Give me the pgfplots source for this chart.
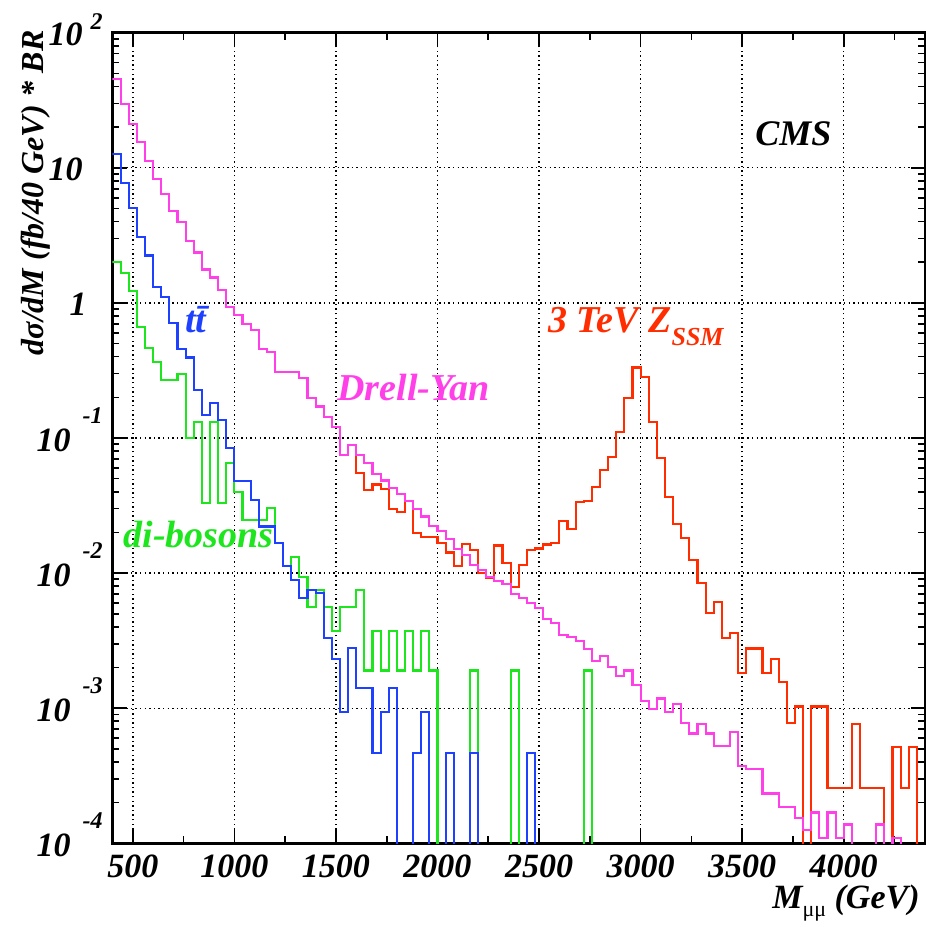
\documentclass[border=0pt]{standalone}
\usepackage{fontspec}
\setmainfont{Liberation Serif}
\usepackage{pgfplots}
\pgfplotsset{compat=1.18}
\definecolor{dypink}{RGB}{255,64,232}
\definecolor{ttblue}{RGB}{30,64,255}
\definecolor{vvgreen}{RGB}{30,230,30}
\definecolor{zred}{RGB}{255,45,0}
\newcommand{\tickfont}{\fontsize{17bp}{20bp}\selectfont\bfseries\itshape}
\newcommand{\lblfont}{\fontsize{19bp}{22bp}\selectfont\bfseries\itshape}
\newcommand{\rexp}[1]{10\hspace*{6bp}\raisebox{14bp}{\fontsize{12bp}{12bp}\selectfont #1}}

\begin{document}
\begin{tikzpicture}
\begin{axis}[
    at={(0,0)}, anchor=south west,
    scale only axis, width=406.25bp, height=405.3bp,
    xmin=400, xmax=4400,
    ymode=log, ymin=1e-4, ymax=100,
    axis line style={line width=1.2bp},
    xtick={500,1000,1500,2000,2500,3000,3500,4000},
    xticklabels={500,1000,1500,2000,2500,3000,3500,4000},
    minor xtick={750,1250,1750,2250,2750,3250,3750,4250},
    ytick={1e-4,1e-3,1e-2,1e-1,1,10,100},
    yticklabels={\rexp{-4},\rexp{-3},\rexp{-2},\rexp{-1},1\hspace*{8bp},10\hspace*{10bp},10\hspace*{4bp}\raisebox{8bp}{\fontsize{12bp}{12bp}\selectfont 2}},
    tick align=inside,
    major tick length=7bp, minor tick length=3.5bp,
    every tick/.style={black, line width=0.8bp},
    grid=major,
    major grid style={black, line width=0.7bp, dash pattern=on 0.7bp off 1.6bp},
    xticklabel style={font=\tickfont, anchor=base, inner sep=0pt, yshift=-16.85bp},
    yticklabel style={font=\tickfont, anchor=base east, inner sep=0pt, xshift=-4.75bp, yshift=-6.5bp},
    clip mode=individual,
    every axis plot/.append style={const plot mark left, no marks, line width=1.1bp},
  ]
  % di-bosons
  \addplot[vvgreen] coordinates {
    (400,2.0) (440,1.67) (480,1.23) (520,0.659) (560,0.461) (600,0.363) (640,0.268) (680,0.268)
    (720,0.298) (760,0.0995) (800,0.132) (840,0.0332) (880,0.132) (920,0.0332) (960,0.0656)
    (1000,0.0400) (1040,0.0247) (1080,0.0247) (1120,0.0247) (1160,0.0302) (1200,0.0168)
    (1240,0.0113) (1280,0.0132) (1320,0.0094) (1360,0.00564) (1400,0.0075) (1440,0.00564)
    (1480,0.00375) (1520,0.00564) (1560,0.00564) (1600,0.0075) (1640,0.0019) (1680,0.00375)
    (1720,0.0019) (1760,0.00375) (1800,0.0019) (1840,0.00375) (1880,0.0019) (1920,0.00375)
    (1960,0.0019) (2000,1e-6) (2160,0.0019) (2200,1e-6) (2360,0.0019) (2400,1e-6)
    (2720,0.0019) (2760,1e-6)};
  % ttbar
  \addplot[ttblue] coordinates {
    (400,12.6) (440,7.76) (480,5.07) (520,3.06) (560,2.24) (600,1.32) (640,1.10) (680,0.713)
    (720,0.453) (760,0.395) (800,0.226) (840,0.147) (880,0.181) (920,0.136) (960,0.0839)
    (1000,0.0481) (1040,0.0481) (1080,0.0348) (1120,0.0221) (1160,0.0221) (1200,0.0166)
    (1240,0.0113) (1280,0.00889) (1320,0.0065) (1360,0.0075) (1400,0.0071) (1440,0.00329)
    (1480,0.00231) (1520,0.000933) (1560,0.0028) (1600,0.00142) (1640,0.00142) (1680,0.000469)
    (1720,0.000942) (1760,0.00142) (1800,1e-6) (1880,0.000469) (1920,0.000942) (1960,1e-6)
    (2040,0.000469) (2080,1e-6) (2160,0.000469) (2200,1e-6) (2440,0.000469) (2480,1e-6)};
  % 3 TeV Z'
  \addplot[zred] coordinates {
    (1520,0.0745) (1560,0.0888) (1600,0.0548) (1640,0.0415) (1680,0.0452) (1720,0.042)
    (1760,0.0300) (1800,0.0285) (1840,0.0340) (1880,0.0199) (1920,0.0184) (1960,0.0184)
    (2000,0.0166) (2040,0.0142) (2080,0.0113) (2120,0.0164) (2160,0.0148) (2200,0.00995)
    (2240,0.00924) (2280,0.0160) (2320,0.0118) (2360,0.00792) (2400,0.0115) (2440,0.0148)
    (2480,0.0152) (2520,0.0163) (2560,0.0168) (2600,0.0244) (2640,0.0212) (2680,0.0338)
    (2720,0.0344) (2760,0.0436) (2800,0.0580) (2840,0.0728) (2880,0.111) (2920,0.197)
    (2960,0.333) (3000,0.281) (3040,0.132) (3080,0.0708) (3120,0.0368) (3160,0.0230)
    (3200,0.0181) (3240,0.0125) (3280,0.0085) (3320,0.0051) (3360,0.00614) (3400,0.00333)
    (3440,0.00358) (3480,0.00181) (3520,0.00277) (3560,0.00277) (3600,0.00181) (3640,0.00230)
    (3680,0.00157) (3720,0.000773) (3760,0.00103) (3800,1e-6) (3840,0.00103) (3880,0.00103)
    (3920,0.000255) (3960,0.000255) (4000,0.000255) (4040,0.000764) (4080,0.000255)
    (4120,0.000255) (4160,0.000255) (4200,1e-6) (4240,0.000513) (4280,0.000255)
    (4320,0.000513) (4360,1e-6) (4400,1e-6)};
  % Drell-Yan
  \addplot[dypink] coordinates {
    (400,45.2) (440,29.6) (480,21.1) (520,15.5) (560,11.3) (600,8.26) (640,6.39) (680,4.79)
    (720,3.99) (760,2.89) (800,2.36) (840,1.77) (880,1.54) (920,1.25) (960,0.927) (1000,0.809)
    (1040,0.698) (1080,0.634) (1120,0.458) (1160,0.436) (1200,0.306) (1240,0.306) (1280,0.306)
    (1320,0.279) (1360,0.197) (1400,0.171) (1440,0.144) (1480,0.121) (1520,0.0745) (1560,0.0888)
    (1600,0.0745) (1640,0.0656) (1680,0.054) (1720,0.0485) (1760,0.0427) (1800,0.0385)
    (1840,0.0344) (1880,0.0298) (1920,0.0262) (1960,0.0223) (2000,0.0205) (2040,0.0178)
    (2080,0.0150) (2120,0.0136) (2160,0.0115) (2200,0.0105) (2240,0.0094) (2280,0.0087)
    (2320,0.0083) (2360,0.0070) (2400,0.0065) (2440,0.0060) (2480,0.0055) (2520,0.0046)
    (2560,0.0043) (2600,0.00348) (2640,0.00338) (2680,0.00314) (2720,0.00275) (2760,0.00223)
    (2800,0.00243) (2840,0.00202) (2880,0.00173) (2920,0.00190) (2960,0.00149) (3000,0.00113)
    (3040,0.000986) (3080,0.00118) (3120,0.000942) (3160,0.00107) (3200,0.00078) (3240,0.00065)
    (3280,0.00076) (3320,0.00065) (3360,0.000525) (3400,0.000525) (3440,0.00067) (3480,0.000373)
    (3520,0.000355) (3560,0.000355) (3600,0.000234) (3640,0.000234) (3680,0.000185)
    (3720,0.000185) (3760,0.000153) (3800,0.000125) (3840,0.000169) (3880,0.000109)
    (3920,0.000169) (3960,0.000109) (4000,0.000138) (4040,1e-6) (4160,0.000138) (4200,1e-6)
    (4240,0.000109) (4280,1e-6)};

  \node[anchor=base west, inner sep=0pt, font=\fontsize{18bp}{21bp}\selectfont\bfseries\itshape] at (axis cs:3563,14.5) {CMS};
  \node[anchor=base west, inner sep=0pt, font=\lblfont, text=dypink] at (axis cs:1505,0.191) {Drell-Yan};
  \node[anchor=base west, inner sep=0pt, font=\lblfont, text=zred] at (axis cs:2544,0.609) {3 TeV Z\raisebox{-6.5bp}{\fontsize{13bp}{13bp}\selectfont SSM}};
  \node[anchor=base west, inner sep=0pt, font=\lblfont, text=ttblue] at (axis cs:757,0.601) {t\={t}};
  \node[anchor=base west, inner sep=0pt, font=\lblfont, text=vvgreen] at (axis cs:452,0.01535) {di-bosons};
\end{axis}
\node[rotate=90, anchor=base east, inner sep=0pt, font=\fontsize{16bp}{19bp}\selectfont\bfseries\itshape] at (-34.75bp,406.65bp) {dσ/dM (fb/40 GeV) * BR};
\node[anchor=base east, inner sep=0pt, font=\fontsize{17bp}{20bp}\selectfont\bfseries\itshape] at (403.75bp,-32.35bp) {M\raisebox{-4bp}{\fontsize{11bp}{11bp}\selectfont\mdseries\upshape μμ} (GeV)};
\pgfresetboundingbox
\useasboundingbox (-56.25bp,-41.85bp) rectangle (406.75bp,421.65bp);
\end{tikzpicture}
\end{document}
